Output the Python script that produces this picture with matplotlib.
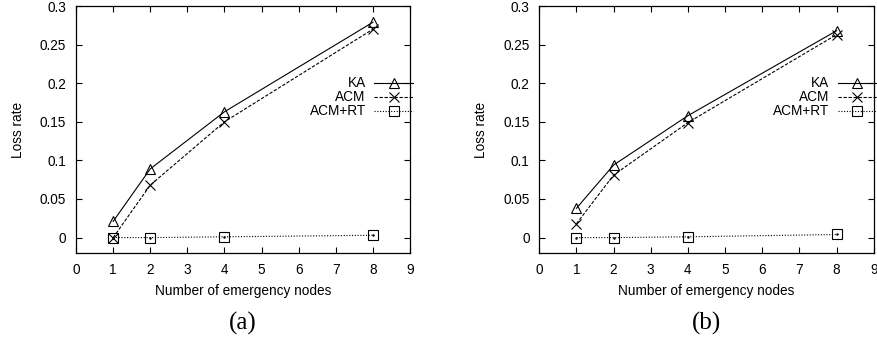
import matplotlib
matplotlib.use("Agg")
import matplotlib.pyplot as plt
from matplotlib.ticker import FuncFormatter, MultipleLocator

nodes = [1, 2, 4, 8]
ka_a = [0.021, 0.089, 0.163, 0.279]
acm_a = [0.000, 0.068, 0.150, 0.270]
acmrt_a = [0.000, 0.000, 0.001, 0.003]
ka_b = [0.038, 0.094, 0.158, 0.268]
acm_b = [0.018, 0.081, 0.149, 0.263]
acmrt_b = [0.000, 0.000, 0.001, 0.004]
series_labels = ["KA", "ACM", "ACM+RT"]
captions = ["(a)", "(b)"]

plt.rcParams['font.family'] = ['Liberation Sans', 'DejaVu Sans']

fig = plt.figure(figsize=(8.78, 3.41), dpi=100)
axes_pos = [[0.0866, 0.258, 0.3804, 0.7243], [0.6142, 0.258, 0.381, 0.7243]]
data = [(ka_a, acm_a, acmrt_a), (ka_b, acm_b, acmrt_b)]

fmt = FuncFormatter(lambda v, p: "%g" % round(v, 3))
fs = 9.8

for pos, (ka, acm, rt), cap in zip(axes_pos, data, captions):
    ax = fig.add_axes(pos)
    lw = 0.8
    ax.plot(nodes, ka, color='black', lw=lw, ls='-', marker='^', ms=6.5,
            mfc='none', mec='black', mew=0.8, label=series_labels[0])
    ax.plot(nodes, acm, color='black', lw=lw, ls=(0, (3, 1.5)), marker='x', ms=6.5,
            mec='black', mew=0.8, label=series_labels[1])
    ax.plot(nodes, rt, color='black', lw=lw, ls=(0, (1, 1.5)), marker='s', ms=6.5,
            mfc='none', mec='black', mew=0.8, label=series_labels[2])
    ax.plot(nodes, rt, ls='none', marker='.', ms=1.5, color='black')
    ax.set_xlim(0, 9)
    ax.set_ylim(-0.02, 0.3)
    ax.xaxis.set_major_locator(MultipleLocator(1))
    ax.yaxis.set_major_locator(MultipleLocator(0.05))
    ax.yaxis.set_major_formatter(fmt)
    ax.tick_params(direction='in', top=True, right=True, length=4, width=0.8,
                   labelsize=fs, pad=7)
    for s in ax.spines.values():
        s.set_linewidth(0.9)
    ax.set_xlabel("Number of emergency nodes", fontsize=fs, labelpad=5)
    ax.set_ylabel("Loss rate", fontsize=fs, labelpad=11)
    ax.legend(loc='upper right', bbox_to_anchor=(1.01, 0.715), frameon=False,
              markerfirst=False, fontsize=fs, handlelength=2.9,
              handletextpad=0.6, labelspacing=0.0, borderpad=0,
              borderaxespad=0)
    ax.text(0.5, -0.285, cap, transform=ax.transAxes, ha='center', va='center',
            fontsize=18, family='Liberation Serif')

fig.savefig("out.png", dpi=100)
